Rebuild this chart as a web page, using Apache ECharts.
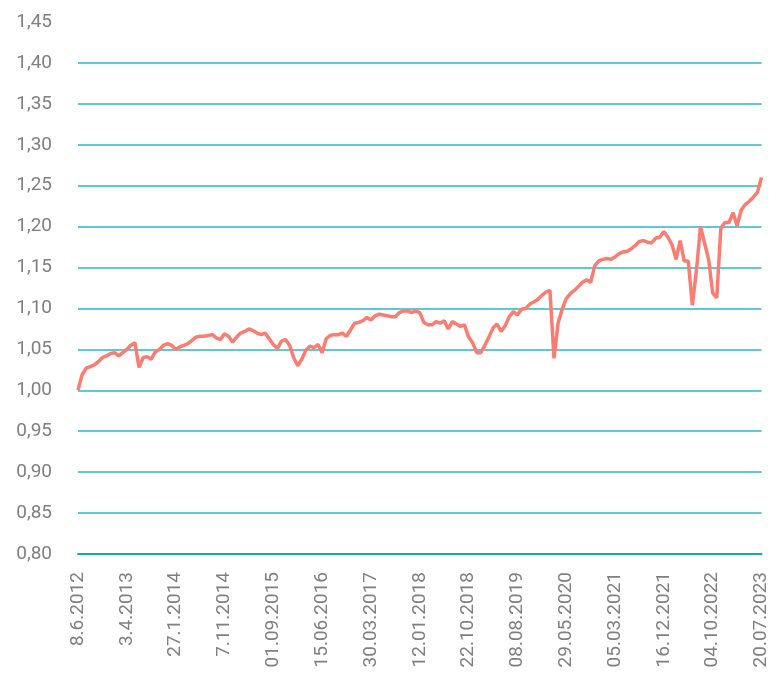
<!DOCTYPE html>
<html lang="en">

<head>
  <meta charset="UTF-8">
  <title>Index</title>
  <style>
    html, body { margin: 0; padding: 0; background: #fff; }
    .chart { width: 771px; height: 682px; }
  </style>
</head>

<body>
  <div class="chart"></div>
  <script src="https://cdn.jsdelivr.net/npm/echarts@6/dist/echarts.min.js"></script>
  <script>
    // date labels under the x axis, one every 12 samples
    let tickLabels = ['8.6.2012', '3.4.2013', '27.1.2014', '7.11.2014', '01.09.2015', '15.06.2016',
      '30.03.2017', '12.01.2018', '22.10.2018', '08.08.2019', '29.05.2020', '05.03.2021',
      '16.12.2021', '04.10.2022', '20.07.2023'];
    let samplesPerTick = 12;

    // index value, sampled evenly between the first and last date
    let values = [
      1.000, 1.019, 1.027, 1.029, 1.031, 1.035, 1.040, 1.042, 1.045, 1.046, 1.042, 1.046,
      1.050, 1.055, 1.058, 1.028, 1.040, 1.041, 1.038, 1.047, 1.050, 1.055, 1.057, 1.055,
      1.050, 1.053, 1.055, 1.057, 1.061, 1.065, 1.066, 1.066, 1.067, 1.068, 1.064, 1.062,
      1.069, 1.066, 1.059, 1.065, 1.070, 1.072, 1.075, 1.073, 1.070, 1.068, 1.070, 1.063,
      1.056, 1.051, 1.060, 1.062, 1.055, 1.040, 1.030, 1.038, 1.049, 1.054, 1.052, 1.056,
      1.046, 1.063, 1.067, 1.068, 1.068, 1.070, 1.066, 1.074, 1.082, 1.083, 1.085, 1.089,
      1.086, 1.091, 1.093, 1.092, 1.091, 1.090, 1.090, 1.095, 1.097, 1.097, 1.095, 1.097,
      1.095, 1.083, 1.080, 1.080, 1.084, 1.082, 1.085, 1.075, 1.084, 1.081, 1.078, 1.080,
      1.065, 1.058, 1.046, 1.046, 1.055, 1.065, 1.076, 1.081, 1.072, 1.079, 1.090, 1.096,
      1.092, 1.099, 1.100, 1.105, 1.108, 1.111, 1.116, 1.120, 1.122, 1.039, 1.082, 1.099,
      1.112, 1.118, 1.122, 1.127, 1.132, 1.135, 1.132, 1.152, 1.158, 1.160, 1.161, 1.160,
      1.163, 1.167, 1.169, 1.170, 1.173, 1.177, 1.182, 1.183, 1.181, 1.180, 1.186, 1.187,
      1.194, 1.187, 1.178, 1.160, 1.183, 1.158, 1.158, 1.104, 1.146, 1.200, 1.180, 1.160,
      1.119, 1.113, 1.198, 1.205, 1.205, 1.217, 1.201, 1.220, 1.227, 1.231, 1.236, 1.242,
      1.260
    ];

    let yMin = 0.80;
    let yMax = 1.45;
    let yStep = 0.05;

    let myChart = echarts.init(document.querySelector('.chart'));

    let labelFont = {
      color: '#808080',
      fontFamily: 'Roboto',
      fontSize: 19
    };

    let option = {
      animation: false,
      grid: {
        left: 78,
        right: 9,
        top: 22,
        bottom: 128
      },
      xAxis: {
        type: 'value',
        min: 0,
        max: (tickLabels.length - 1) * samplesPerTick,
        interval: samplesPerTick,
        axisLine: { show: true, lineStyle: { color: '#16a9b9', width: 2 } },
        axisTick: { show: false },
        splitLine: { show: false },
        axisLabel: Object.assign({
          rotate: 90,
          margin: 18,
          formatter: v => tickLabels[Math.round(v / samplesPerTick)] || ''
        }, labelFont)
      },
      yAxis: {
        type: 'value',
        min: yMin,
        max: yMax,
        interval: yStep,
        axisLine: { show: false },
        axisTick: { show: false },
        splitLine: {
          show: true,
          showMaxLine: false,
          lineStyle: { color: '#2bb6c7', width: 1.5 }
        },
        axisLabel: Object.assign({
          margin: 26,
          formatter: v => v.toFixed(2).replace('.', ',')
        }, labelFont)
      },
      series: [
        {
          type: 'line',
          showSymbol: false,
          data: values.map((v, i) => [i, v]),
          lineStyle: { color: '#fb7c70', width: 3.5 },
          itemStyle: { color: '#fb7c70' }
        }
      ]
    };
    myChart.setOption(option);
  </script>
</body>

</html>
